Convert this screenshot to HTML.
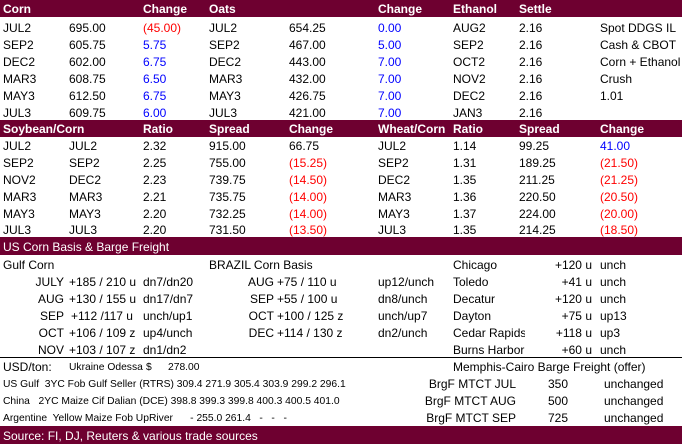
<!DOCTYPE html>
<html><head><meta charset="utf-8"><style>
body{margin:0;width:682px;height:444px;position:relative;background:#fff;font-family:"Liberation Sans",sans-serif;font-size:12px;color:#000;overflow:hidden}
.b{position:absolute;left:0;width:682px;background:#6e0030}
span{position:absolute;white-space:nowrap;line-height:14px}
.h{color:#fff;font-weight:bold}
.r{color:#f00}.u{color:#00f}
.s{font-size:10.3px}
.ra{text-align:right}
.ln{position:absolute;left:0;width:682px;height:1px;background:#000}
</style></head><body>
<div class="b" style="top:0;height:17px"></div>
<div class="b" style="top:120px;height:17px"></div>
<div class="b" style="top:237px;height:18px"></div>
<div class="b" style="top:426px;height:18px"></div>
<div class="ln" style="top:357px"></div>

<span class="h" style="left:3px;top:2px">Corn</span><span class="h" style="left:143px;top:2px">Change</span><span class="h" style="left:209px;top:2px">Oats</span><span class="h" style="left:378px;top:2px">Change</span><span class="h" style="left:453px;top:2px">Ethanol</span><span class="h" style="left:519px;top:2px">Settle</span>

<span style="left:3px;top:21px">JUL2</span><span style="left:69px;top:21px">695.00</span><span class="r" style="left:143px;top:21px">(45.00)</span><span style="left:209px;top:21px">JUL2</span><span style="left:289px;top:21px">654.25</span><span class="u" style="left:378px;top:21px">0.00</span><span style="left:453px;top:21px">AUG2</span><span style="left:519px;top:21px">2.16</span><span style="left:600px;top:21px">Spot DDGS IL</span>
<span style="left:3px;top:38px">SEP2</span><span style="left:69px;top:38px">605.75</span><span class="u" style="left:143px;top:38px">5.75</span><span style="left:209px;top:38px">SEP2</span><span style="left:289px;top:38px">467.00</span><span class="u" style="left:378px;top:38px">5.00</span><span style="left:453px;top:38px">SEP2</span><span style="left:519px;top:38px">2.16</span><span style="left:600px;top:38px">Cash &amp; CBOT</span>
<span style="left:3px;top:55px">DEC2</span><span style="left:69px;top:55px">602.00</span><span class="u" style="left:143px;top:55px">6.75</span><span style="left:209px;top:55px">DEC2</span><span style="left:289px;top:55px">443.00</span><span class="u" style="left:378px;top:55px">7.00</span><span style="left:453px;top:55px">OCT2</span><span style="left:519px;top:55px">2.16</span><span style="left:600px;top:55px">Corn + Ethanol</span>
<span style="left:3px;top:72px">MAR3</span><span style="left:69px;top:72px">608.75</span><span class="u" style="left:143px;top:72px">6.50</span><span style="left:209px;top:72px">MAR3</span><span style="left:289px;top:72px">432.00</span><span class="u" style="left:378px;top:72px">7.00</span><span style="left:453px;top:72px">NOV2</span><span style="left:519px;top:72px">2.16</span><span style="left:600px;top:72px">Crush</span>
<span style="left:3px;top:89px">MAY3</span><span style="left:69px;top:89px">612.50</span><span class="u" style="left:143px;top:89px">6.75</span><span style="left:209px;top:89px">MAY3</span><span style="left:289px;top:89px">426.75</span><span class="u" style="left:378px;top:89px">7.00</span><span style="left:453px;top:89px">DEC2</span><span style="left:519px;top:89px">2.16</span><span style="left:600px;top:89px">1.01</span>
<span style="left:3px;top:106px">JUL3</span><span style="left:69px;top:106px">609.75</span><span class="u" style="left:143px;top:106px">6.00</span><span style="left:209px;top:106px">JUL3</span><span style="left:289px;top:106px">421.00</span><span class="u" style="left:378px;top:106px">7.00</span><span style="left:453px;top:106px">JAN3</span><span style="left:519px;top:106px">2.16</span>

<span class="h" style="left:3px;top:122px">Soybean/Corn</span><span class="h" style="left:143px;top:122px">Ratio</span><span class="h" style="left:209px;top:122px">Spread</span><span class="h" style="left:289px;top:122px">Change</span><span class="h" style="left:378px;top:122px">Wheat/Corn</span><span class="h" style="left:453px;top:122px">Ratio</span><span class="h" style="left:519px;top:122px">Spread</span><span class="h" style="left:600px;top:122px">Change</span>

<span style="left:3px;top:139px">JUL2</span><span style="left:69px;top:139px">JUL2</span><span style="left:143px;top:139px">2.32</span><span style="left:209px;top:139px">915.00</span><span style="left:289px;top:139px">66.75</span><span style="left:378px;top:139px">JUL2</span><span style="left:453px;top:139px">1.14</span><span style="left:519px;top:139px">99.25</span><span class="u" style="left:600px;top:139px">41.00</span>
<span style="left:3px;top:156px">SEP2</span><span style="left:69px;top:156px">SEP2</span><span style="left:143px;top:156px">2.25</span><span style="left:209px;top:156px">755.00</span><span class="r" style="left:289px;top:156px">(15.25)</span><span style="left:378px;top:156px">SEP2</span><span style="left:453px;top:156px">1.31</span><span style="left:519px;top:156px">189.25</span><span class="r" style="left:600px;top:156px">(21.50)</span>
<span style="left:3px;top:173px">NOV2</span><span style="left:69px;top:173px">DEC2</span><span style="left:143px;top:173px">2.23</span><span style="left:209px;top:173px">739.75</span><span class="r" style="left:289px;top:173px">(14.50)</span><span style="left:378px;top:173px">DEC2</span><span style="left:453px;top:173px">1.35</span><span style="left:519px;top:173px">211.25</span><span class="r" style="left:600px;top:173px">(21.25)</span>
<span style="left:3px;top:190px">MAR3</span><span style="left:69px;top:190px">MAR3</span><span style="left:143px;top:190px">2.21</span><span style="left:209px;top:190px">735.75</span><span class="r" style="left:289px;top:190px">(14.00)</span><span style="left:378px;top:190px">MAR3</span><span style="left:453px;top:190px">1.36</span><span style="left:519px;top:190px">220.50</span><span class="r" style="left:600px;top:190px">(20.50)</span>
<span style="left:3px;top:207px">MAY3</span><span style="left:69px;top:207px">MAY3</span><span style="left:143px;top:207px">2.20</span><span style="left:209px;top:207px">732.25</span><span class="r" style="left:289px;top:207px">(14.00)</span><span style="left:378px;top:207px">MAY3</span><span style="left:453px;top:207px">1.37</span><span style="left:519px;top:207px">224.00</span><span class="r" style="left:600px;top:207px">(20.00)</span>
<span style="left:3px;top:223px">JUL3</span><span style="left:69px;top:223px">JUL3</span><span style="left:143px;top:223px">2.20</span><span style="left:209px;top:223px">731.50</span><span class="r" style="left:289px;top:223px">(13.50)</span><span style="left:378px;top:223px">JUL3</span><span style="left:453px;top:223px">1.35</span><span style="left:519px;top:223px">214.25</span><span class="r" style="left:600px;top:223px">(18.50)</span>

<span class="h" style="left:3px;top:240px;font-weight:normal">US Corn Basis &amp; Barge Freight</span>

<span style="left:3px;top:258px">Gulf Corn</span><span style="left:209px;top:258px">BRAZIL Corn Basis</span><span style="left:453px;top:258px">Chicago</span><span class="ra" style="left:530px;width:62px;top:258px">+120 u</span><span style="left:600px;top:258px">unch</span>

<span class="ra" style="left:20px;width:44px;top:275px">JULY</span><span style="left:69px;top:275px">+185 / 210 u</span><span style="left:143px;top:275px">dn7/dn20</span><span class="ra" style="left:230px;width:44px;top:275px">AUG</span><span style="left:277px;top:275px">+75 / 110 u</span><span style="left:378px;top:275px">up12/unch</span><span style="left:453px;top:275px">Toledo</span><span class="ra" style="left:530px;width:62px;top:275px">+41 u</span><span style="left:600px;top:275px">unch</span>
<span class="ra" style="left:20px;width:44px;top:292px">AUG</span><span style="left:69px;top:292px">+130 / 155 u</span><span style="left:143px;top:292px">dn17/dn7</span><span class="ra" style="left:230px;width:44px;top:292px">SEP</span><span style="left:277px;top:292px">+55 / 100 u</span><span style="left:378px;top:292px">dn8/unch</span><span style="left:453px;top:292px">Decatur</span><span class="ra" style="left:530px;width:62px;top:292px">+120 u</span><span style="left:600px;top:292px">unch</span>
<span class="ra" style="left:20px;width:44px;top:309px">SEP</span><span style="left:71px;top:309px">+112 /117 u</span><span style="left:143px;top:309px">unch/up1</span><span class="ra" style="left:230px;width:44px;top:309px">OCT</span><span style="left:277px;top:309px">+100 / 125 z</span><span style="left:378px;top:309px">unch/up7</span><span style="left:453px;top:309px">Dayton</span><span class="ra" style="left:530px;width:62px;top:309px">+75 u</span><span style="left:600px;top:309px">up13</span>
<span class="ra" style="left:20px;width:44px;top:326px">OCT</span><span style="left:69px;top:326px">+106 / 109 z</span><span style="left:143px;top:326px">up4/unch</span><span class="ra" style="left:230px;width:44px;top:326px">DEC</span><span style="left:277px;top:326px">+114 / 130 z</span><span style="left:378px;top:326px">dn2/unch</span><span style="left:453px;top:326px;width:72px;overflow:hidden">Cedar Rapids</span><span class="ra" style="left:530px;width:62px;top:326px">+118 u</span><span style="left:600px;top:326px">up3</span>
<span class="ra" style="left:20px;width:44px;top:343px">NOV</span><span style="left:69px;top:343px">+103 / 107 z</span><span style="left:143px;top:343px">dn1/dn2</span><span style="left:453px;top:343px;width:72px;overflow:hidden">Burns Harbor</span><span class="ra" style="left:530px;width:62px;top:343px">+60 u</span><span style="left:600px;top:343px">unch</span>

<span style="left:3px;top:360px">USD/ton:</span><span class="s" style="left:69px;top:361px">Ukraine Odessa</span><span class="s" style="left:146px;top:361px">$</span><span class="s" style="left:168px;top:361px">278.00</span><span style="left:453px;top:360px">Memphis-Cairo Barge Freight (offer)</span>
<span class="s" style="left:3px;top:378px">US Gulf&nbsp; 3YC Fob Gulf Seller (RTRS) 309.4 271.9 305.4 303.9 299.2 296.1</span><span class="ra" style="left:400px;width:116px;top:377px">BrgF MTCT JUL</span><span style="left:548px;top:377px">350</span><span style="left:604px;top:377px">unchanged</span>
<span class="s" style="left:3px;top:395px">China&nbsp;&nbsp; 2YC Maize Cif Dalian (DCE) 398.8 399.3 399.8 400.3 400.5 401.0</span><span class="ra" style="left:400px;width:116px;top:394px">BrgF MTCT AUG</span><span style="left:548px;top:394px">500</span><span style="left:604px;top:394px">unchanged</span>
<span class="s" style="left:3px;top:412px">Argentine&nbsp; Yellow Maize Fob UpRiver&nbsp;&nbsp;&nbsp;&nbsp;&nbsp; - 255.0 261.4&nbsp;&nbsp; -&nbsp;&nbsp; -&nbsp;&nbsp; -</span><span class="ra" style="left:400px;width:116px;top:411px">BrgF MTCT SEP</span><span style="left:548px;top:411px">725</span><span style="left:604px;top:411px">unchanged</span>

<span style="left:3px;top:429px;color:#fff">Source: FI, DJ, Reuters &amp; various trade sources</span>
</body></html>
